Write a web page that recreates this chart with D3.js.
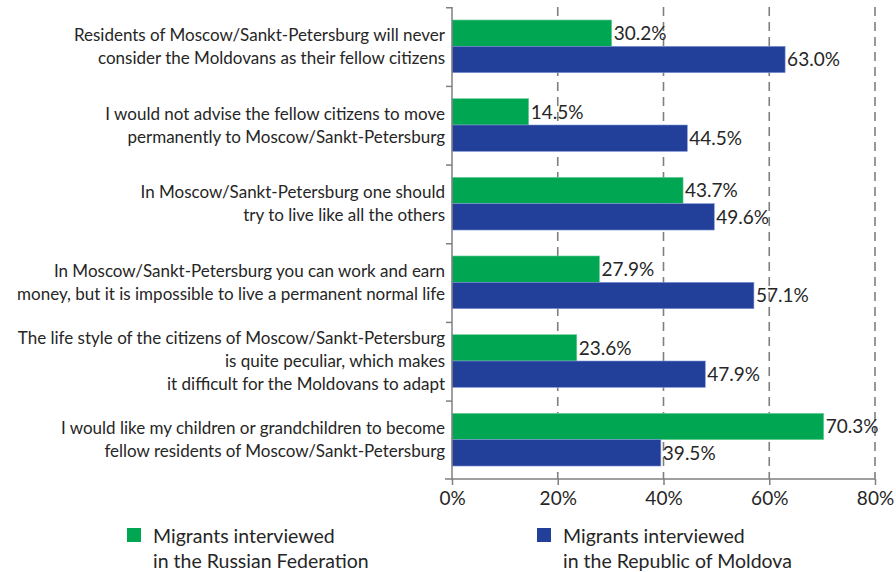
<!DOCTYPE html>
<html>
<head>
<meta charset="utf-8">
<script src="https://cdn.jsdelivr.net/npm/d3@7"></script>
<style>
  body { margin: 0; background: #fff; }
  svg { font-family: Lato, "Open Sans", sans-serif; }
</style>
</head>
<body>
<svg id="chart" width="896" height="572"></svg>
<script>
// statements, one line per array entry
const categories = [
    ["Residents of Moscow/Sankt-Petersburg will never", "consider the Moldovans as their fellow citizens"],
    ["I would not advise the fellow citizens to move", "permanently to Moscow/Sankt-Petersburg"],
    ["In Moscow/Sankt-Petersburg one should", "try to live like all the others"],
    ["In Moscow/Sankt-Petersburg you can work and earn", "money, but it is impossible to live a permanent normal life"],
    ["The life style of the citizens of Moscow/Sankt-Petersburg", "is quite peculiar, which makes", "it difficult for the Moldovans to adapt"],
    ["I would like my children or grandchildren to become", "fellow residents of Moscow/Sankt-Petersburg"]
];
const seriesNames = [
    ["Migrants interviewed", "in the Russian Federation"],
    ["Migrants interviewed", "in the Republic of Moldova"]
];
const russia = [30.2, 14.5, 43.7, 27.9, 23.6, 70.3];
const moldova = [63.0, 44.5, 49.6, 57.1, 47.9, 39.5];
const xTicks = [0, 20, 40, 60, 80];
const colors = ["#00a651", "#22409a"];

document.addEventListener('DOMContentLoaded', function () {
    drawChart();
});

function drawChart() {
    const svg = d3.select('#chart');
    const margin = { top: 7, left: 452, right: 21, bottom: 93 };
    const width = 896, height = 572;
    const innerWidth = width - margin.left - margin.right;
    const innerHeight = height - margin.top - margin.bottom;
    const textColor = '#262626';
    const axisColor = '#7f7f7f';

    const idx = categories.map((d, i) => i);
    const xScale = d3.scaleLinear().domain([0, 80]).range([0, innerWidth]);
    const yScale = d3.scaleBand().domain(idx).range([0, innerHeight])
        .paddingInner(0.33).paddingOuter(0.165);
    const sub = d3.scaleBand().domain([0, 1]).range([0, yScale.bandwidth()]);
    const step = yScale.step();

    const g = svg.append('g')
        .attr('transform', 'translate(' + margin.left + ',' + margin.top + ')');

    // dashed grid
    g.selectAll('.grid').data(xTicks.slice(1)).enter().append('line')
        .attr('x1', d => xScale(d)).attr('x2', d => xScale(d))
        .attr('y1', 0).attr('y2', innerHeight)
        .attr('stroke', axisColor).attr('stroke-width', 1.6)
        .attr('stroke-dasharray', '9,6');

    const series = [russia, moldova];
    series.forEach((vals, s) => {
        g.selectAll('.bar' + s).data(vals).enter().append('rect')
            .attr('x', 0)
            .attr('y', (d, i) => yScale(i) + sub(s))
            .attr('width', d => xScale(d))
            .attr('height', sub.bandwidth())
            .attr('fill', colors[s])
            .attr('stroke', s === 0 ? '#6fd19a' : '#7f93d6')
            .attr('stroke-width', 0.6);

        g.selectAll('.val' + s).data(vals).enter().append('text')
            .attr('x', d => xScale(d) + 2)
            .attr('y', (d, i) => yScale(i) + sub(s) + sub.bandwidth() / 2)
            .attr('dy', '0.36em')
            .attr('fill', textColor)
            .style('font-size', '19px')
            .text(d => d.toFixed(1) + '%');
    });

    // y axis line with ticks at band boundaries
    g.append('line').attr('x1', 0).attr('x2', 0).attr('y1', 0).attr('y2', innerHeight)
        .attr('stroke', axisColor).attr('stroke-width', 1.5);
    g.selectAll('.ytick').data(d3.range(categories.length)).enter().append('line')
        .attr('x1', -6).attr('x2', 0)
        .attr('y1', d => d * step + 0.75).attr('y2', d => d * step + 0.75)
        .attr('stroke', axisColor).attr('stroke-width', 1.5);

    // x axis
    const xAxis = d3.axisBottom(xScale).tickValues(xTicks)
        .tickFormat(d => d + '%').tickSize(6).tickSizeOuter(0).tickPadding(7);
    const xg = g.append('g').attr('transform', 'translate(0,' + innerHeight + ')').call(xAxis);
    xg.select('.domain').remove();
    xg.append('line').attr('x1', -7).attr('x2', innerWidth)
        .attr('stroke', axisColor).attr('stroke-width', 1.5);
    xg.selectAll('.tick line').attr('stroke', axisColor).attr('stroke-width', 1.5);
    xg.selectAll('.tick text').attr('fill', textColor)
        .style('font-size', '19px').style('font-family', 'Lato, sans-serif');

    // category labels
    const lineH = 23;
    categories.forEach((lines, i) => {
        const cy = yScale(i) + yScale.bandwidth() / 2;
        const t = g.append('text')
            .attr('text-anchor', 'end')
            .attr('fill', textColor)
            .style('font-size', '17px');
        lines.forEach((ln, j) => {
            t.append('tspan')
                .attr('x', -7)
                .attr('y', cy + (j - (lines.length - 1) / 2) * lineH)
                .attr('dy', '0.36em')
                .text(ln);
        });
    });

    // legend
    const legendX = [127, 537];
    seriesNames.forEach((lines, s) => {
        const lg = svg.append('g').attr('transform', 'translate(' + legendX[s] + ',528)');
        lg.append('rect').attr('width', 14).attr('height', 14).attr('fill', colors[s]);
        const t = lg.append('text').attr('fill', textColor).style('font-size', '19.5px');
        lines.forEach((ln, j) => {
            t.append('tspan').attr('x', 26).attr('y', 15 + j * 25).text(ln);
        });
    });
}
</script>
</body>
</html>
